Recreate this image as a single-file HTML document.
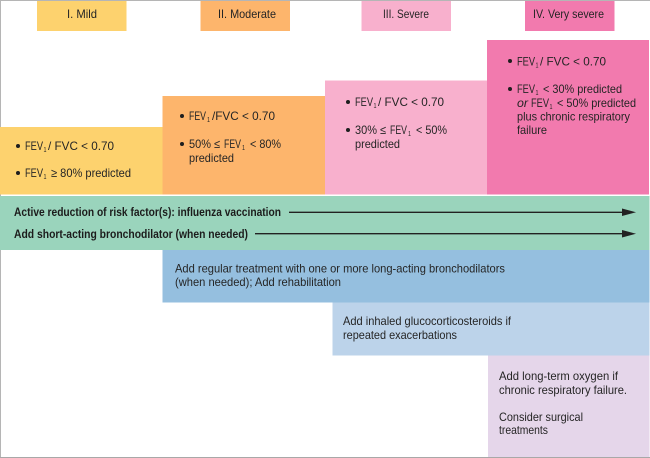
<!DOCTYPE html>
<html><head><meta charset="utf-8"><style>
html,body{margin:0;padding:0;background:#fff}
svg{display:block}
text{font-family:"Liberation Sans",sans-serif;font-size:12px;fill:#252525}
.b{font-weight:bold;fill:#1c1c1c}
.s{font-size:7px}
</style></head><body>
<svg width="650" height="458" viewBox="0 0 650 458" xmlns="http://www.w3.org/2000/svg">
<rect width="650" height="458" fill="#fff"/>
<rect x="0" y="0" width="650" height="1" fill="#b5b5b5"/>
<rect x="0" y="0" width="1" height="458" fill="#b5b5b5"/>
<rect x="0" y="457" width="650" height="1" fill="#a8a8a8"/>
<rect x="37" y="1" width="89.500" height="30" fill="#fdd26e"/>
<rect x="200.500" y="1" width="89.500" height="30" fill="#fdb56c"/>
<rect x="361.500" y="1" width="89.500" height="30" fill="#f8b0cd"/>
<rect x="525" y="1" width="89.500" height="30" fill="#f27aae"/>
<rect x="0" y="127" width="162.500" height="67.500" fill="#fdd26e"/>
<rect x="162.500" y="96" width="162.500" height="98.500" fill="#fdb56c"/>
<rect x="325" y="80.500" width="162.500" height="114" fill="#f8b0cd"/>
<rect x="487" y="40" width="162" height="154.500" fill="#f27aae"/>
<rect x="0" y="196" width="649.500" height="54" fill="#9ad4bc"/>
<rect x="162.500" y="250" width="487" height="52.500" fill="#95bfdf"/>
<rect x="332.500" y="302.500" width="317" height="53" fill="#bcd3ea"/>
<rect x="488" y="355.500" width="161.500" height="101.500" fill="#e5d6ea"/>

<text x="67" y="18" textLength="30" lengthAdjust="spacingAndGlyphs">I. Mild</text>
<text x="218" y="18" textLength="58" lengthAdjust="spacingAndGlyphs">II. Moderate</text>
<text x="383" y="18" textLength="46" lengthAdjust="spacingAndGlyphs">III. Severe</text>
<text x="533" y="18" textLength="71" lengthAdjust="spacingAndGlyphs">IV. Very severe</text>

<g fill="#1e1e1e">
<circle cx="18" cy="146" r="2"/><circle cx="18" cy="173" r="2"/>
<circle cx="182" cy="116" r="2"/><circle cx="182" cy="144" r="2"/>
<circle cx="348" cy="102" r="2"/><circle cx="348" cy="130" r="2"/>
<circle cx="510" cy="61" r="2"/><circle cx="510" cy="89" r="2"/>
</g>

<text x="25" y="150" textLength="18" lengthAdjust="spacingAndGlyphs">FEV</text>
<text x="43.500" y="152" class="s" textLength="3" lengthAdjust="spacingAndGlyphs">1</text>
<text x="48" y="150" textLength="66" lengthAdjust="spacingAndGlyphs">/ FVC &lt; 0.70</text>
<text x="25" y="177" textLength="18" lengthAdjust="spacingAndGlyphs">FEV</text>
<text x="43.500" y="179" class="s" textLength="3" lengthAdjust="spacingAndGlyphs">1</text>
<text x="51" y="177" textLength="80" lengthAdjust="spacingAndGlyphs">≥ 80% predicted</text>

<text x="189" y="120" textLength="17" lengthAdjust="spacingAndGlyphs">FEV</text>
<text x="207" y="122" class="s" textLength="3" lengthAdjust="spacingAndGlyphs">1</text>
<text x="212" y="120" textLength="63" lengthAdjust="spacingAndGlyphs">/FVC &lt; 0.70</text>
<text x="189" y="148" textLength="31" lengthAdjust="spacingAndGlyphs">50% ≤</text>
<text x="224" y="148" textLength="17" lengthAdjust="spacingAndGlyphs">FEV</text>
<text x="242" y="150" class="s" textLength="3" lengthAdjust="spacingAndGlyphs">1</text>
<text x="250" y="148" textLength="31" lengthAdjust="spacingAndGlyphs">&lt; 80%</text>
<text x="189" y="162" textLength="45" lengthAdjust="spacingAndGlyphs">predicted</text>

<text x="355" y="106" textLength="18" lengthAdjust="spacingAndGlyphs">FEV</text>
<text x="373.500" y="108" class="s" textLength="3" lengthAdjust="spacingAndGlyphs">1</text>
<text x="378" y="106" textLength="66" lengthAdjust="spacingAndGlyphs">/ FVC &lt; 0.70</text>
<text x="355" y="134" textLength="31" lengthAdjust="spacingAndGlyphs">30% ≤</text>
<text x="390" y="134" textLength="17" lengthAdjust="spacingAndGlyphs">FEV</text>
<text x="408" y="136" class="s" textLength="3" lengthAdjust="spacingAndGlyphs">1</text>
<text x="416" y="134" textLength="31" lengthAdjust="spacingAndGlyphs">&lt; 50%</text>
<text x="355" y="148" textLength="45" lengthAdjust="spacingAndGlyphs">predicted</text>

<text x="517" y="65.500" textLength="18" lengthAdjust="spacingAndGlyphs">FEV</text>
<text x="535.500" y="67.500" class="s" textLength="3" lengthAdjust="spacingAndGlyphs">1</text>
<text x="540" y="65.500" textLength="66" lengthAdjust="spacingAndGlyphs">/ FVC &lt; 0.70</text>
<text x="517" y="93" textLength="18" lengthAdjust="spacingAndGlyphs">FEV</text>
<text x="535.500" y="95" class="s" textLength="3" lengthAdjust="spacingAndGlyphs">1</text>
<text x="543" y="93" textLength="79" lengthAdjust="spacingAndGlyphs">&lt; 30% predicted</text>
<text x="517" y="107" textLength="11" lengthAdjust="spacingAndGlyphs" font-style="italic">or</text>
<text x="531" y="107" textLength="18" lengthAdjust="spacingAndGlyphs">FEV</text>
<text x="549.500" y="109" class="s" textLength="3" lengthAdjust="spacingAndGlyphs">1</text>
<text x="557" y="107" textLength="79" lengthAdjust="spacingAndGlyphs">&lt; 50% predicted</text>
<text x="517" y="120.500" textLength="113" lengthAdjust="spacingAndGlyphs">plus chronic respiratory</text>
<text x="517" y="134" textLength="30" lengthAdjust="spacingAndGlyphs">failure</text>

<text class="b" x="14" y="216" textLength="267" lengthAdjust="spacingAndGlyphs">Active reduction of risk factor(s): influenza vaccination</text>
<text class="b" x="14" y="238" textLength="234" lengthAdjust="spacingAndGlyphs">Add short-acting bronchodilator (when needed)</text>
<line x1="289" y1="212.300" x2="624" y2="212.300" stroke="#222" stroke-width="1.300"/>
<polygon points="622,208.500 636,212.300 622,216" fill="#222"/>
<line x1="255" y1="233.700" x2="624" y2="233.700" stroke="#222" stroke-width="1.300"/>
<polygon points="622,230 636,233.700 622,237.500" fill="#222"/>

<text x="175" y="272.700" textLength="330" lengthAdjust="spacingAndGlyphs">Add regular treatment with one or more long-acting bronchodilators</text>
<text x="175" y="286" textLength="166" lengthAdjust="spacingAndGlyphs">(when needed); Add rehabilitation</text>
<text x="343" y="325" textLength="168" lengthAdjust="spacingAndGlyphs">Add inhaled glucocorticosteroids if</text>
<text x="343" y="339" textLength="114" lengthAdjust="spacingAndGlyphs">repeated exacerbations</text>
<text x="499" y="380" textLength="119" lengthAdjust="spacingAndGlyphs">Add long-term oxygen if</text>
<text x="499" y="394" textLength="128" lengthAdjust="spacingAndGlyphs">chronic respiratory failure.</text>
<text x="499" y="421" textLength="84" lengthAdjust="spacingAndGlyphs">Consider surgical</text>
<text x="499" y="434" textLength="49" lengthAdjust="spacingAndGlyphs">treatments</text>
</svg>
</body></html>
